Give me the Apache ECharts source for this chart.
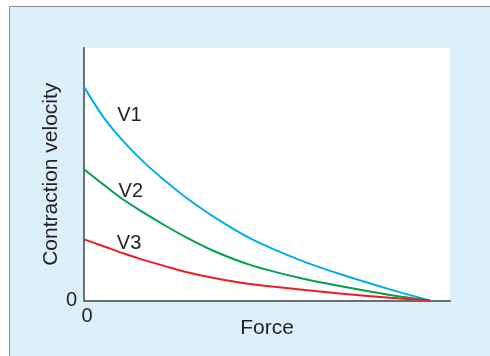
<!DOCTYPE html>
<html><head><meta charset="utf-8">
<script src="https://cdn.jsdelivr.net/npm/echarts@6/dist/echarts.min.js"></script>
<style>html,body{margin:0;padding:0;background:#fff;}#c{width:490px;height:356px;}</style>
</head><body><div id="c"></div>
<script>
var force = [0, 5.5, 10.9, 16.4, 21.9, 27.3, 35.5, 45.4, 59.0, 69.9, 83.6, 94.5];
var v1 = [84.6, 72.2, 62.8, 54.7, 47.7, 41.4, 33.1, 24.6, 16.0, 10.5, 4.4, 0];
var v2 = [52.0, 45.7, 39.8, 34.7, 29.9, 25.5, 19.6, 14.1, 8.9, 5.7, 2.2, 0];
var v3 = [24.2, 21.4, 18.6, 16.0, 13.7, 11.5, 8.9, 6.5, 4.4, 2.8, 1.1, 0];
var seriesNames = ['V1', 'V2', 'V3'];
var labelPos = [[12.4, 73.1], [12.8, 43.0], [12.3, 22.4]];
var colors = ['#00aeef', '#00a04f', '#ed1c24'];
var values = [v1, v2, v3];
var FONT = '"Liberation Sans", Arial, sans-serif';
var chart = echarts.init(document.getElementById('c'), null, {renderer: 'canvas'});
function pairs(ys) { return force.map(function (x, i) { return [x, ys[i]]; }); }
var series = values.map(function (ys, k) {
  return {
    type: 'line', name: seriesNames[k], data: pairs(ys), smooth: 0.3, symbol: 'none',
    lineStyle: {color: colors[k], width: 2}, z: 5,
    markPoint: {
      symbol: 'circle', symbolSize: 2, silent: true,
      itemStyle: {color: 'rgba(0,0,0,0)'},
      data: [{coord: labelPos[k], value: seriesNames[k]}],
      label: {show: true, formatter: seriesNames[k], color: '#231f20', fontSize: 20, fontFamily: FONT,
        position: 'inside', align: 'center', verticalAlign: 'middle'}
    }
  };
});
chart.setOption({
  animation: false,
  backgroundColor: 'transparent',
  graphic: [{type: 'rect', z: -10, shape: {x: 9.5, y: 6.5, width: 490, height: 360},
    style: {fill: '#dcf0fb', stroke: '#8a8a8a', lineWidth: 1}}],
  grid: {left: 84, top: 48, right: 40, bottom: 55.5, show: true, backgroundColor: '#ffffff', borderWidth: 0},
  xAxis: {
    type: 'value', min: 0, max: 100, interval: 100,
    name: 'Force', nameLocation: 'middle', nameGap: 17, nameMoveOverlap: false,
    nameTextStyle: {color: '#231f20', fontSize: 21, fontFamily: FONT},
    axisLine: {show: true, lineStyle: {color: '#6d6e70', width: 2}},
    axisTick: {show: false}, splitLine: {show: false},
    axisLabel: {color: '#231f20', fontSize: 20, fontFamily: FONT, margin: 6, padding: [0, 0, 0, 6],
      formatter: function (v) { return v === 0 ? '0' : ''; }}
  },
  yAxis: {
    type: 'value', min: 0, max: 100, interval: 100,
    name: 'Contraction velocity', nameLocation: 'middle', nameGap: 22, nameRotate: 90, nameMoveOverlap: false,
    nameTextStyle: {color: '#231f20', fontSize: 21, fontFamily: FONT},
    axisLine: {show: true, lineStyle: {color: '#6d6e70', width: 2}},
    axisTick: {show: false}, splitLine: {show: false},
    axisLabel: {color: '#231f20', fontSize: 20, fontFamily: FONT, margin: 7,
      formatter: function (v) { return v === 0 ? '0' : ''; }}
  },
  series: series
});
</script></body></html>
